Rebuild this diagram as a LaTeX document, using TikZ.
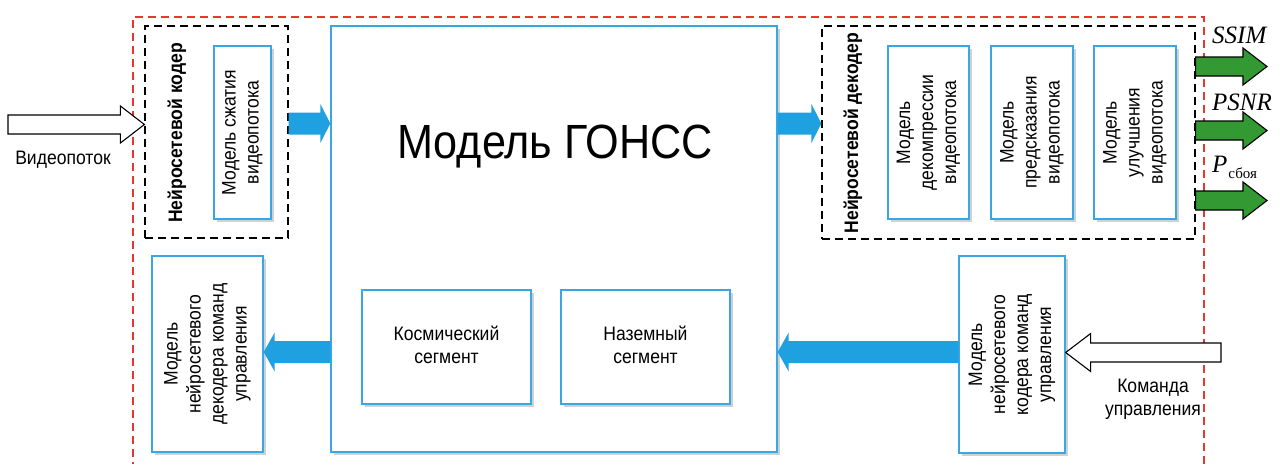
\documentclass[tikz,border=0pt]{standalone}
\usepackage{fontspec}
\setmainfont[FakeStretch=0.9]{Liberation Sans}
\newfontfamily\tms{Liberation Serif}
\usetikzlibrary{calc,shadows}
\definecolor{bluebd}{HTML}{3AA6E4}
\definecolor{bluear}{HTML}{1FA0E0}
\definecolor{greenar}{HTML}{339933}
\definecolor{reddash}{HTML}{E8372C}
\newcommand{\rtxt}[1]{\rotatebox{90}{\begin{tabular}{@{}c@{}}#1\end{tabular}}}
\newcommand{\blockarrow}[6]{%
  \path[#1] let \p1=(#2), \p2=(#3), \n1={sign(\x2-\x1)} in
   (\x1,{\y1+#4}) -- ({\x2-\n1*#6},{\y1+#4}) -- ({\x2-\n1*#6},{\y1+#5}) -- (\x2,\y1)
   -- ({\x2-\n1*#6},{\y1-#5}) -- ({\x2-\n1*#6},{\y1-#4}) -- (\x1,{\y1-#4}) -- cycle;}
\tikzset{
  bbox/.style={draw=bluebd, line width=1.3pt, fill=white, inner sep=0pt,
    drop shadow={shadow xshift=2.5pt, shadow yshift=-2.5pt, opacity=0.3, fill=black!60}},
  dbox/.style={draw=black, line width=1.2pt, dash pattern=on 8pt off 5pt, inner sep=0pt},
  txt/.style={font=\fontsize{19.5}{23}\selectfont, inner sep=0pt},
  blueflow/.style={fill=bluear},
  whiteflow/.style={fill=white, draw=black, line width=1.1pt, line join=miter},
  greenflow/.style={fill=greenar, draw=black, line width=1.1pt, line join=miter},
  metric/.style={font=\tms\itshape\fontsize{25}{25}\selectfont, inner sep=0pt, anchor=base west}
}
\begin{document}
\begin{tikzpicture}[x=1pt, y=-1pt]
\useasboundingbox (0,0) rectangle (1281,463);
% red boundary
\draw[reddash, line width=1.3pt, dash pattern=on 8pt off 5pt]
  (133,470) -- (133,17) -- (1204,17) -- (1204,470);
% main box
\node[bbox, minimum width=446pt, minimum height=426pt] (main) at (554,239) {};
\node[txt, font=\fontsize{48}{48}\selectfont, anchor=base] (title) at (555,158) {Модель ГОНСС};
\node[bbox, minimum width=169pt, minimum height=114pt, txt] (ks) at (446.5,347)
  {\begin{tabular}{@{}c@{}}Космический\\сегмент\end{tabular}};
\node[bbox, minimum width=169pt, minimum height=114pt, txt] (ns) at (645.5,347)
  {\begin{tabular}{@{}c@{}}Наземный\\сегмент\end{tabular}};
% encoder
\node[dbox, minimum width=143pt, minimum height=212pt] (enc) at (216.5,132) {};
\node[txt, font=\bfseries\fontsize{19.5}{23}\selectfont] (encT) at (177,133) {\rotatebox{90}{Нейросетевой кодер}};
\node[bbox, minimum width=57pt, minimum height=173pt, txt] (m1) at (242.5,132.5)
  {\rtxt{Модель сжатия\\видеопотока}};
% decoder
\node[dbox, minimum width=373pt, minimum height=213pt] (dec) at (1008.5,132.5) {};
\node[txt, font=\bfseries\fontsize{19.5}{23}\selectfont] (decT) at (853,133) {\rotatebox{90}{Нейросетевой декодер}};
\node[bbox, minimum width=81pt, minimum height=173pt, txt] (d1) at (928.5,132.5)
  {\rtxt{Модель\\декомпрессии\\видеопотока}};
\node[bbox, minimum width=82pt, minimum height=173pt, txt] (d2) at (1032,132.5)
  {\rtxt{Модель\\предсказания\\видеопотока}};
\node[bbox, minimum width=82pt, minimum height=173pt, txt] (d3) at (1135,132.5)
  {\rtxt{Модель\\улучшения\\видеопотока}};
% command boxes
\node[bbox, minimum width=111pt, minimum height=196pt, txt] (cmdDec) at (207.5,354)
  {\rtxt{Модель\\нейросетевого\\декодера команд\\управления}};
\node[bbox, minimum width=106pt, minimum height=197pt, txt] (cmdEnc) at (1012,354.5)
  {\rtxt{Модель\\нейросетевого\\кодера команд\\управления}};
% helper coordinates
\coordinate (vin) at (8,124.5);
\coordinate (yA) at (0,123.5);
\coordinate (yB) at (0,352);
\coordinate (vcmd) at (1221,352.5);
\coordinate (g1) at (1267,66.5);
\coordinate (g2) at (1267,130.5);
\coordinate (g3) at (1267,200.5);
% arrows
\blockarrow{whiteflow}{vin}{enc.west |- vin}{9.5pt}{18.5pt}{24pt}
\blockarrow{blueflow}{enc.east |- yA}{main.west |- yA}{11pt}{19.5pt}{10pt}
\blockarrow{blueflow}{main.east |- yA}{dec.west |- yA}{11pt}{19.5pt}{10pt}
\blockarrow{blueflow}{main.west |- yB}{cmdDec.east |- yB}{11pt}{19.5pt}{11pt}
\blockarrow{blueflow}{cmdEnc.west |- yB}{main.east |- yB}{11pt}{19.5pt}{11pt}
\blockarrow{whiteflow}{vcmd}{cmdEnc.east |- vcmd}{9.5pt}{19pt}{25pt}
\blockarrow{greenflow}{dec.east |- g1}{g1}{9.5pt}{18.5pt}{24pt}
\blockarrow{greenflow}{dec.east |- g2}{g2}{9.5pt}{18.5pt}{24pt}
\blockarrow{greenflow}{dec.east |- g3}{g3}{9.5pt}{18.5pt}{24pt}
% labels
\node[txt] (lvin) at (63,160) {Видеопоток};
\node[txt] (lcmd) at (1153,399.5) {\begin{tabular}{@{}c@{}}Команда\\управления\end{tabular}};
\node[metric] (lssim) at (1212,43) {SSIM};
\node[metric] (lpsnr) at (1212,110) {PSNR};
\node[metric] (lp) at (1212,172) {P\kern1pt\raisebox{-6pt}{\upshape\fontsize{15}{15}\selectfont сбоя}};
\end{tikzpicture}
\end{document}
